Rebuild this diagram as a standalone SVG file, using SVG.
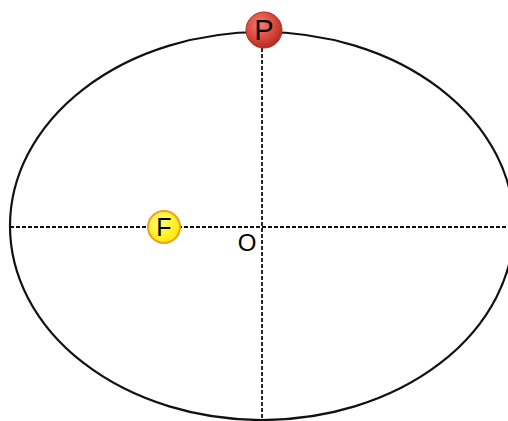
<svg xmlns="http://www.w3.org/2000/svg" width="508" height="421" viewBox="0 0 508 421">
<defs>
<radialGradient id="gp" cx="0.4" cy="0.35" r="0.7">
<stop offset="0" stop-color="#f08070"/>
<stop offset="0.6" stop-color="#d9463a"/>
<stop offset="1" stop-color="#a8281f"/>
</radialGradient>
<radialGradient id="gf" cx="0.4" cy="0.35" r="0.7">
<stop offset="0" stop-color="#ffff70"/>
<stop offset="1" stop-color="#ffe600"/>
</radialGradient>
</defs>
<style>
.ax{stroke:#111;stroke-width:1.8;stroke-dasharray:4 2;fill:none}
.lbl{font-family:"Liberation Sans",Arial,sans-serif;fill:#000;text-anchor:middle}
</style>
<rect width="508" height="421" fill="#fff"/>
<g id="orbit">
<ellipse cx="262" cy="226" rx="252" ry="194" fill="none" stroke="#111" stroke-width="2.2"/>
</g>
<g id="connectors">
<line class="ax" x1="262" y1="30" x2="262" y2="421"/>
<line class="ax" x1="10" y1="227" x2="508" y2="227"/>
</g>
<g id="O">
<text class="lbl" x="247" y="251" style="font-size:24px">O</text>
</g>
<g id="F">
<circle cx="164" cy="227" r="16" fill="url(#gf)" stroke="#f0a020" stroke-width="2"/>
<text class="lbl" x="164" y="236" style="font-size:25px">F</text>
</g>
<g id="P">
<circle cx="264" cy="30" r="18" fill="url(#gp)" stroke="#b03020" stroke-width="1"/>
<text class="lbl" x="264" y="40" style="font-size:29px">P</text>
</g>
</svg>
